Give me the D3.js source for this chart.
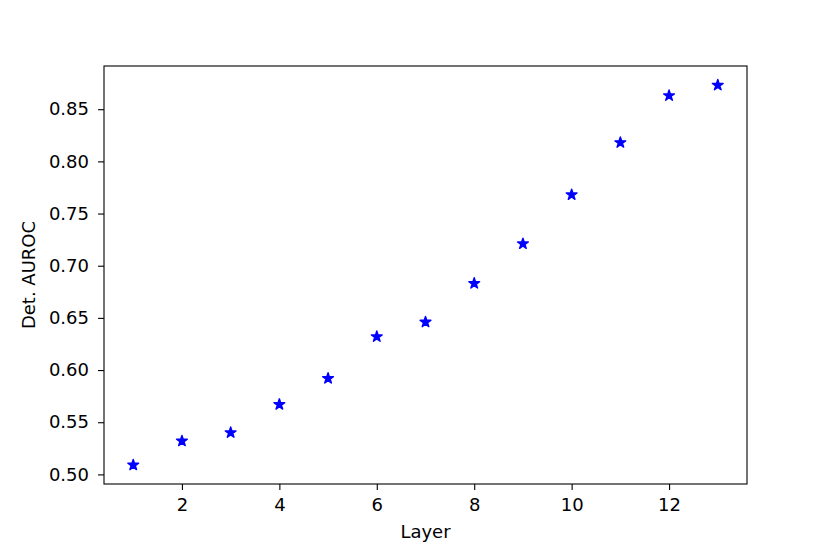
<!DOCTYPE html>
<html><head><meta charset="utf-8">
<script src="https://cdn.jsdelivr.net/npm/d3@7"></script>
<style>body{margin:0;background:#fff}svg{display:block}text{font-family:"DejaVu Sans",sans-serif}</style>
</head><body><svg id="c" width="830" height="554"></svg>
<script>
const layers = [1,2,3,4,5,6,7,8,9,10,11,12,13];
const auroc = [0.509,0.532,0.540,0.567,0.592,0.632,0.646,0.683,0.721,0.768,0.818,0.863,0.873];
const xTicks = [2,4,6,8,10,12];
const yTicks = [0.50,0.55,0.60,0.65,0.70,0.75,0.80,0.85];
const xLabel = "Layer", yLabel = "Det. AUROC";

const svg = d3.select("#c");
const L=104, R=747, T=66, B=484;
const x = d3.scaleLinear().domain([0.4,13.6]).range([L,R]);
const y = d3.scaleLinear().domain([0.4908,0.8914]).range([B,T]);

const fs = 18;
const gx = svg.append("g").attr("transform",`translate(0,${B})`)
  .call(d3.axisBottom(x).tickValues(xTicks).tickSize(6).tickPadding(8.5).tickFormat(d3.format("d")));
const gy = svg.append("g").attr("transform",`translate(${L},0)`)
  .call(d3.axisLeft(y).tickValues(yTicks).tickSize(6).tickPadding(9).tickFormat(d3.format(".2f")));
[gx,gy].forEach(g=>{
  g.attr("font-size",fs).attr("font-family","DejaVu Sans");
  g.select(".domain").remove();
  g.selectAll("line").attr("stroke","#000").attr("stroke-width",1.1);
  g.selectAll("text").attr("font-size",fs).attr("fill","#000");
});
svg.append("rect").attr("x",L).attr("y",T).attr("width",R-L).attr("height",B-T)
  .attr("fill","none").attr("stroke","#000").attr("stroke-width",1.1);

svg.append("g").selectAll("path").data(layers).join("path")
  .attr("d", d3.symbol().type(d3.symbolStar).size(36))
  .attr("transform",(d,i)=>`translate(${x(d)},${y(auroc[i])})`)
  .attr("fill","#0000ff").attr("stroke","#0000ff").attr("stroke-width",1.4).attr("stroke-linejoin","round");

svg.append("text").attr("x",(L+R)/2).attr("y",538).attr("text-anchor","middle")
  .attr("font-size",fs).text(xLabel);
svg.append("text").attr("transform",`translate(35,${(T+B)/2}) rotate(-90)`)
  .attr("text-anchor","middle").attr("font-size",fs).text(yLabel);
</script></body></html>
